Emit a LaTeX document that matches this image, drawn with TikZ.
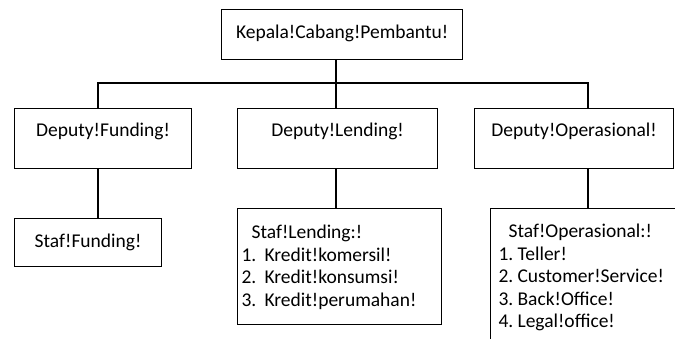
\documentclass[tikz,border=0pt]{standalone}
\usepackage{fontspec}
\setmainfont{Carlito}
\usepackage{array}
\begin{document}
\begin{tikzpicture}[x=1pt, y=-1pt, line width=1.2pt, font=\fontsize{19.5}{22.5}\selectfont, box/.style = {draw, inner ysep=0pt, anchor=north west}, head/.style = {box, text height=28pt, text depth=32pt}]
\useasboundingbox (0,0) rectangle (675,339);
\clip (0,0) rectangle (675,339);
\node[box, minimum width=241pt, text height=29pt, text depth=21pt] (kcp) at (221,9) {Kepala!Cabang!Pembantu!};
\node[head, minimum width=177pt] (dfund) at (14,108) {Deputy!Funding!};
\node[head, minimum width=200pt] (dlend) at (237,108) {Deputy!Lending!};
\node[head, minimum width=199pt] (dops) at (474,108) {Deputy!Operasional!};
\node[box, minimum width=147pt, text height=29pt, text depth=19pt] (sfund) at (14,218) {Staf!Funding!};
\node[box, inner xsep=4pt, text height=30pt, text depth=86pt] (slend) at (237,208) {\begin{tabular}[t]{@{}p{23pt}@{}p{173pt}@{}}
\multicolumn{2}{@{\hspace{10pt}}p{186pt}@{}}{Staf!Lending:!}\\
1. & Kredit!komersil!\\
2. & Kredit!konsumsi!\\
3. & Kredit!perumahan!
\end{tabular}};
\node[box, inner xsep=8pt, text height=29pt, text depth=111pt] (sops) at (490,208) {\begin{tabular}[t]{@{}p{19pt}@{}p{165pt}@{}}
\multicolumn{2}{@{\hspace{10pt}}p{174pt}@{}}{Staf!Operasional:!}\\
1. & Teller!\\
2. & Customer!Service!\\
3. & Back!Office!\\
4. & Legal!office!
\end{tabular}};
\coordinate (busL) at (98,83);
\coordinate (busM) at (336,83);
\coordinate (busR) at (588,83);
\draw (busM |- kcp.south) -- (busM |- dlend.north);
\draw (busL |- dfund.north) -- (busL) -- (busR) -- (busR |- dops.north);
\draw (busL |- dfund.south) -- (busL |- sfund.north);
\draw (busM |- dlend.south) -- (busM |- slend.north);
\draw (busR |- dops.south) -- (busR |- sops.north);
\end{tikzpicture}
\end{document}
